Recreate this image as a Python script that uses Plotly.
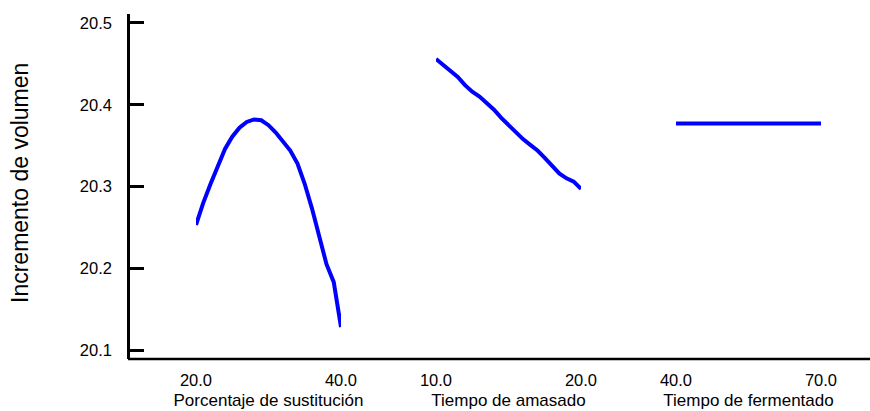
import plotly.graph_objects as go

# ---- data ----
y_title = "Incremento de volumen"
y_ticks = [20.1, 20.2, 20.3, 20.4, 20.5]
y_ticktext = ["20.1", "20.2", "20.3", "20.4", "20.5"]

sust_x = [20, 21, 22, 23, 24, 25, 26, 27, 28, 29, 30, 31, 32, 33, 34, 35, 36, 37, 38, 39, 40]
sust_y = [20.253, 20.280, 20.303, 20.326, 20.346, 20.361, 20.372, 20.379, 20.382, 20.381,
          20.375, 20.366, 20.355, 20.344, 20.328, 20.303, 20.273, 20.240, 20.205, 20.183, 20.128]

amas_x = [10, 10.5, 11, 11.5, 12, 12.5, 13, 13.5, 14, 14.5, 15, 15.5, 16, 16.5, 17, 17.5,
          18, 18.5, 19, 19.5, 20]
amas_y = [20.456, 20.449, 20.442, 20.434, 20.424, 20.416, 20.410, 20.402, 20.394, 20.384,
          20.375, 20.366, 20.358, 20.351, 20.344, 20.335, 20.325, 20.316, 20.310, 20.306, 20.297]

ferm_x = [40, 45, 50, 55, 60, 65, 70]
ferm_y = [20.377, 20.377, 20.377, 20.377, 20.377, 20.377, 20.377]

panel_titles = ["Porcentaje de sustitución", "Tiempo de amasado", "Tiempo de fermentado"]
panel_ticks = [[20, 40], [10, 20], [40, 70]]
panel_ticktext = [["20.0", "40.0"], ["10.0", "20.0"], ["40.0", "70.0"]]

# ---- figure ----
W, H = 870, 411
L, R, T, B = 128, 0, 14, 52
plot_w = W - L - R

FONT = "Liberation Sans, Arial, sans-serif"
BLUE = "#0000FF"

fig = go.Figure()
series = [(sust_x, sust_y), (amas_x, amas_y), (ferm_x, ferm_y)]
axes = ["x", "x2", "x3"]
for (xs, ys), ax in zip(series, axes):
    fig.add_trace(go.Scatter(x=xs, y=ys, mode="lines", xaxis=ax, yaxis="y",
                             line=dict(color=BLUE, width=4), showlegend=False,
                             hoverinfo="skip"))

# panel domains in pixels (start, end)
panel_px = [(196, 341), (436, 581), (676, 821)]
layout_axes = {}
for i, ((p0, p1), ticks, ttext, title) in enumerate(zip(panel_px, panel_ticks, panel_ticktext, panel_titles)):
    name = "xaxis" if i == 0 else f"xaxis{i+1}"
    layout_axes[name] = dict(
        domain=[(p0 - L) / plot_w, (p1 - L) / plot_w],
        range=[ticks[0], ticks[1]],
        tickvals=ticks, ticktext=ttext,
        ticks="", showline=False, showgrid=False, zeroline=False,
        anchor="y",
        tickfont=dict(family=FONT, size=16.5, color="black"),
        ticklabelstandoff=9,
        title=dict(text=title, font=dict(family=FONT, size=17, color="black"), standoff=6),
    )

fig.update_layout(
    width=W, height=H,
    margin=dict(l=L, r=R, t=T, b=B, autoexpand=False),
    paper_bgcolor="white", plot_bgcolor="white",
    yaxis=dict(
        anchor="free", position=0,
        range=[20.089, 20.511],
        tickvals=y_ticks, ticktext=y_ticktext,
        ticks="inside", ticklen=14, tickwidth=2.5, tickcolor="black",
        showline=True, linewidth=2.5, linecolor="black",
        showgrid=False, zeroline=False,
        tickfont=dict(family=FONT, size=16.5, color="black"),
        ticklabelstandoff=12,
    ),
    **layout_axes,
)

# full-width baseline (x axis line)
fig.add_shape(type="line", xref="paper", yref="paper", x0=0, x1=1, y0=0, y1=0,
              line=dict(color="black", width=2.5))

# y axis title
fig.add_annotation(text=y_title, xref="paper", yref="paper",
                   x=(20 - L) / plot_w, y=(H - B - 183) / (H - T - B),
                   xanchor="center", yanchor="middle", textangle=-90, showarrow=False,
                   font=dict(family=FONT, size=23, color="black"))

fig.write_html("out.html", config={"displayModeBar": False},
               post_script="document.body.style.margin='0px';")
